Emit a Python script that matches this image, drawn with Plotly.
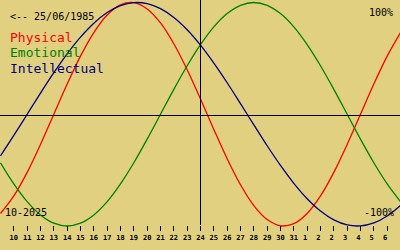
import plotly.graph_objects as go

# Biorhythm for birth date 25/06/1985, window 09/10/2025 .. 08/11/2025 (day index 0..30)
day_index = list(range(31))

physical = [-0.888, -0.731, -0.520, -0.270, 0.0, 0.270, 0.520, 0.731, 0.888, 0.979,
            0.998, 0.942, 0.817, 0.631, 0.398, 0.136, -0.136, -0.398, -0.631, -0.817,
            -0.942, -0.998, -0.979, -0.888, -0.731, -0.520, -0.270, 0.0, 0.270, 0.520, 0.731]

emotional = [-0.434, -0.623, -0.782, -0.901, -0.975, -1.0, -0.975, -0.901, -0.782, -0.623,
             -0.434, -0.223, 0.0, 0.223, 0.434, 0.623, 0.782, 0.901, 0.975, 1.0,
             0.975, 0.901, 0.782, 0.623, 0.434, 0.223, 0.0, -0.223, -0.434, -0.623, -0.782]

intellectual = [-0.372, -0.189, 0.0, 0.189, 0.372, 0.541, 0.690, 0.815, 0.910, 0.972,
                0.999, 0.990, 0.945, 0.866, 0.756, 0.618, 0.458, 0.282, 0.095, -0.095,
                -0.282, -0.458, -0.618, -0.756, -0.866, -0.945, -0.990, -0.999, -0.972, -0.910, -0.815]

tick_positions = list(range(1, 30))
tick_labels = ["10", "11", "12", "13", "14", "15", "16", "17", "18", "19", "20", "21",
               "22", "23", "24", "25", "26", "27", "28", "29", "30", "31",
               "1", "2", "2", "3", "4", "5", "6"]

today_index = 15
series_names = ["Physical", "Emotional", "Intellectual"]
series_colors = ["#ff0000", "#008000", "#000080"]

BG = "#e0d080"
MONO = "DejaVu Sans Mono"
W, H = 400, 250

# pixel geometry of the scales
X_PX_PER_DAY = W / 30.0
X_OFFSET_PX = 0.5          # so that day lines fall on pixel centres
Y_ZERO_PX = 114.25
Y_AMP_PX = 111.75

x_range = [-X_OFFSET_PX / X_PX_PER_DAY, 30 - X_OFFSET_PX / X_PX_PER_DAY]
y_range = [-(H - Y_ZERO_PX) / Y_AMP_PX, Y_ZERO_PX / Y_AMP_PX]

fig = go.Figure()
for vals, col in zip([physical, emotional, intellectual], series_colors):
    fig.add_trace(go.Scatter(x=day_index, y=vals, mode="lines",
                             line=dict(color=col, width=1.3, shape="spline"),
                             hoverinfo="skip", showlegend=False))

# zero (horizontal) line and today (vertical) line
fig.add_shape(type="line", xref="paper", yref="paper", x0=0, x1=1,
              y0=1 - 115.5 / H, y1=1 - 115.5 / H, line=dict(color="black", width=1))
fig.add_shape(type="line", xref="x", yref="paper", x0=today_index, x1=today_index,
              y0=0.1, y1=1, line=dict(color="black", width=1))

def ann(text, xpx, ypx, size, color="black", xanchor="left"):
    fig.add_annotation(text=text, xref="paper", yref="paper",
                       x=xpx / W, y=1 - ypx / H, xanchor=xanchor, yanchor="middle",
                       showarrow=False, font=dict(family=MONO, size=size, color=color),
                       borderpad=0)

ann("&lt;-- 25/06/1985", 9, 16.5, 10)
for i, (nm, col) in enumerate(zip(series_names, series_colors)):
    ann(nm, 9, 37 + 15.5 * i, 13, col)
ann("100%", 394, 12.5, 10, xanchor="right")
ann("-100%", 395, 212.5, 10, xanchor="right")
ann("10-2025", 4, 212, 10)

labels_shown = [t if len(t) > 1 else t + "\u00a0" for t in tick_labels]

fig.update_layout(
    width=W, height=H, margin=dict(l=0, r=0, t=0, b=0),
    paper_bgcolor=BG, plot_bgcolor=BG,
    xaxis=dict(range=x_range, tickmode="array", tickvals=tick_positions, ticktext=labels_shown,
               ticks="outside", ticklen=5, tickwidth=1, tickcolor="black",
               showgrid=False, zeroline=False, showline=False,
               anchor="free", position=0.1, side="bottom",
               tickfont=dict(family=MONO, size=7, color="black", weight="bold"),
               ticklabelstandoff=1, fixedrange=True),
    yaxis=dict(range=y_range, visible=False, fixedrange=True),
)

fig.write_html("out.html")
